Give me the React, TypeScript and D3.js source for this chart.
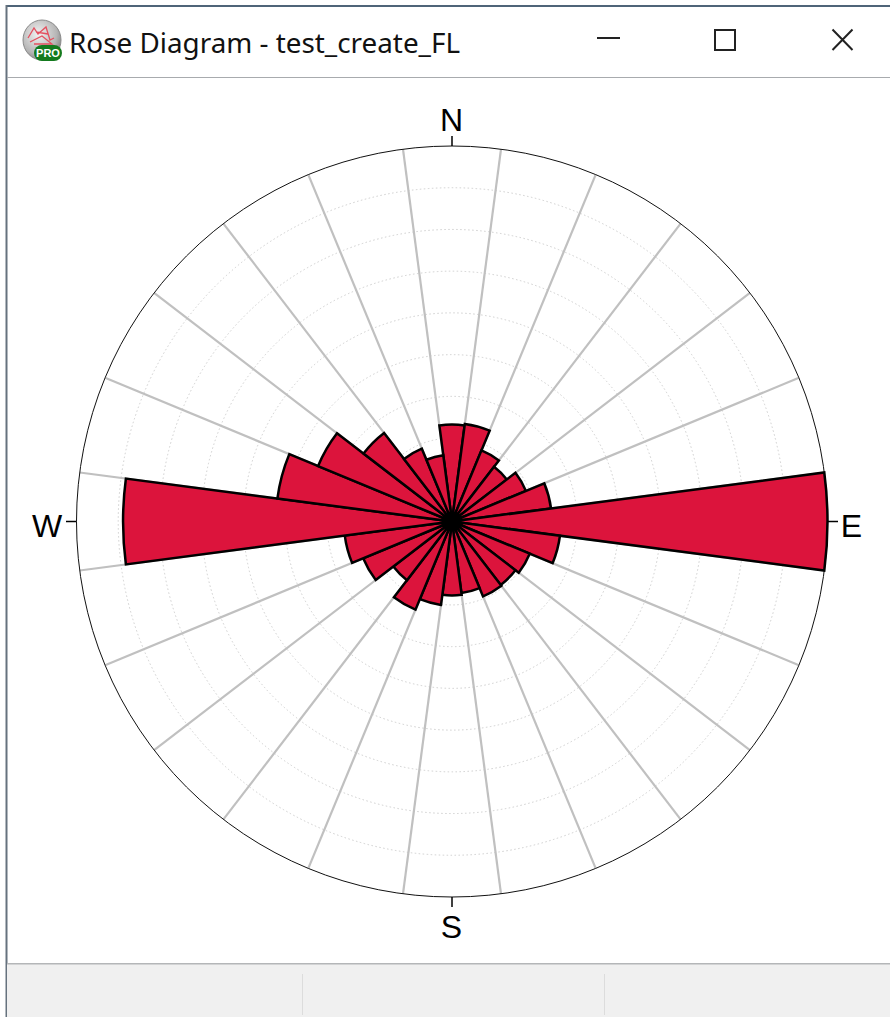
import React from "react";
import * as d3 from "d3";

const W = 890, H = 1017;
const CX = 452, CY = 521.5, R = 375.5;

const titleText = "Rose Diagram - test_create_FL";
const compassLabels = ["N", "E", "S", "W"];
const sectorCentres = [0, 15, 30, 45, 60, 75, 90, 105, 120, 135, 150, 165, 180, 195, 210, 225, 240, 255, 270, 285, 300, 315, 330, 345];
const sectorValues = [25.8, 26.2, 20.5, 18.4, 21.3, 26.6, 100, 29, 22.4, 21.3, 21.6, 19.2, 19.7, 22.4, 25.4, 19.7, 25.6, 28.8, 87.6, 46.9, 38.6, 29.7, 21, 17.8];
const ringLevels = [11.11, 22.22, 33.33, 44.44, 55.56, 66.67, 77.78, 88.89];
const sectorWidth = 15;

const rScale = d3.scaleLinear().domain([0, 100]).range([0, R]);
const toRad = (d: number) => (d * Math.PI) / 180;
const arc = d3.arc<any>();

function polar(deg: number, r: number) {
  return [CX + r * Math.sin(toRad(deg)), CY - r * Math.cos(toRad(deg))];
}

export default function App() {
  const sw = sectorWidth / 2;
  return (
    <svg width={W} height={H} viewBox={`0 0 ${W} ${H}`}
      style={{ position: "absolute", left: 0, top: 0, display: "block", background: "#fff" }}>
      <defs>
        <radialGradient id="ball" cx="40%" cy="35%" r="70%">
          <stop offset="0%" stopColor="#f2f2f2" />
          <stop offset="70%" stopColor="#b5b5b5" />
          <stop offset="100%" stopColor="#7d7d7d" />
        </radialGradient>
      </defs>

      {/* window frame */}
      <rect x={6} y={5} width={W - 6} height={H - 5} fill="#fff" />
      <rect x={6} y={5} width={W - 6} height={2} fill="#4f6478" />
      <rect x={5.5} y={5} width={2} height={H - 5} fill="#66727e" />
      <rect x={7} y={77} width={W - 7} height={1} fill="#a8abae" />
      <rect x={7} y={964} width={W - 7} height={H - 964} fill="#f0f0f0" />
      <rect x={7} y={963} width={W - 7} height={1.5} fill="#b4b6b8" />
      <rect x={302} y={974} width={1} height={41} fill="#dcdcdc" />
      <rect x={604} y={974} width={1} height={41} fill="#dcdcdc" />

      {/* title bar */}
      <ellipse cx={42} cy={40} rx={19} ry={20} fill="url(#ball)" stroke="#8a8a8a" />
      <path d="M28 38 L34 28 L38 34 L46 27 L50 40 L54 38 M30 42 L42 36 L52 44 L34 44 M36 32 L48 34"
        fill="none" stroke="#e4505f" strokeWidth={1.3} />
      <rect x={34} y={45} width={28} height={16} rx={8} fill="#137a1e" />
      <text x={48} y={57} textAnchor="middle" fontFamily="'Liberation Sans'" fontWeight={700} fontSize={11} fill="#fff">PRO</text>
      <text x={69} y={53} fontFamily="'Noto Sans'" fontSize={27} fill="#111" textLength={391} lengthAdjust="spacingAndGlyphs">{titleText}</text>
      <rect x={597} y={37} width={23} height={2} fill="#222" />
      <rect x={715} y={30} width={20} height={20} fill="none" stroke="#222" strokeWidth={2} />
      <path d="M832.5 29.5 L852.5 50 M852.5 29.5 L832.5 50" stroke="#222" strokeWidth={2} fill="none" />

      {/* rings */}
      {ringLevels.map((v) => (
        <circle key={v} cx={CX} cy={CY} r={rScale(v)} fill="none" stroke="#cfcfcf" strokeWidth={1} strokeDasharray="1.5 2.5" />
      ))}

      {/* spokes */}
      {sectorCentres.map((c) => {
        const [x, y] = polar(c + sw, R);
        return <line key={c} x1={CX} y1={CY} x2={x} y2={y} stroke="#c0c0c0" strokeWidth={2.2} />;
      })}

      {/* outer circle */}
      <circle cx={CX} cy={CY} r={R} fill="none" stroke="#111" strokeWidth={1} />

      {/* ticks + labels */}
      <line x1={CX} y1={136} x2={CX} y2={CY - R} stroke="#000" strokeWidth={1.5} />
      <line x1={CX} y1={CY + R} x2={CX} y2={907} stroke="#000" strokeWidth={1.5} />
      <line x1={CX - R} y1={CY} x2={66} y2={CY} stroke="#000" strokeWidth={1.5} />
      <line x1={CX + R} y1={CY} x2={838} y2={CY} stroke="#000" strokeWidth={1.5} />
      <g fontFamily="'Liberation Sans'" fontSize={32} fill="#000">
        <text x={451.5} y={131} textAnchor="middle">{compassLabels[0]}</text>
        <text x={851.5} y={537} textAnchor="middle">{compassLabels[1]}</text>
        <text x={451.5} y={938} textAnchor="middle">{compassLabels[2]}</text>
        <text x={47} y={537} textAnchor="middle">{compassLabels[3]}</text>
      </g>

      {/* petals */}
      <g transform={`translate(${CX},${CY})`}>
        {sectorCentres.map((c, i) => (
          <path key={c}
            d={arc({ innerRadius: 0, outerRadius: rScale(sectorValues[i]), startAngle: toRad(c - sw), endAngle: toRad(c + sw) }) as string}
            fill="#dc143c" stroke="#000" strokeWidth={2.5} strokeLinejoin="miter" />
        ))}
        <circle r={9.5} fill="#000" />
      </g>
    </svg>
  );
}
